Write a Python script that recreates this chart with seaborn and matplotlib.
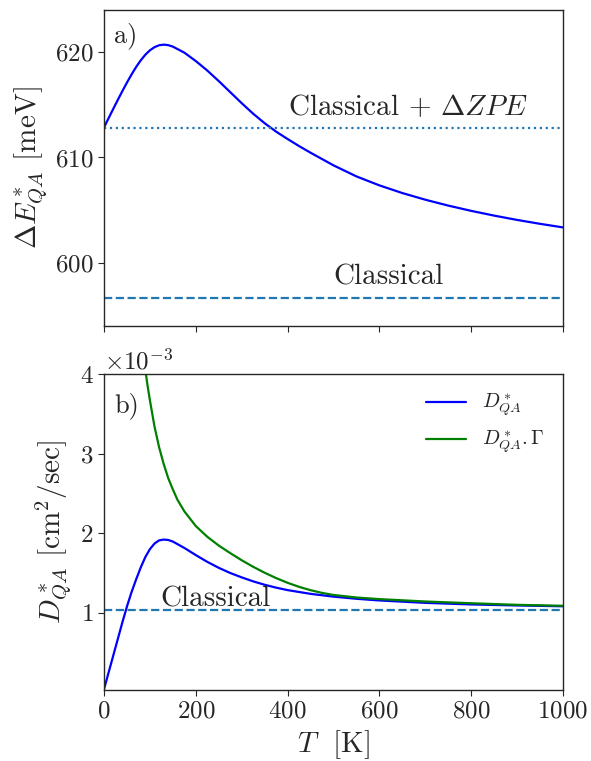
import numpy as np
import pandas as pd
import matplotlib
matplotlib.use("Agg")
import matplotlib.pyplot as plt
import seaborn as sns

# Activation energy vs temperature (meV)
T_E = [0, 10, 20, 30, 40, 50, 60, 70, 80, 90, 100, 110, 120, 130, 140, 150,
       175, 200, 225, 250, 275, 300, 325, 350, 375, 400, 425, 450, 500, 550,
       600, 650, 700, 750, 800, 850, 900, 950, 1000]
E_QA = [612.85, 613.73, 614.60, 615.46, 616.30, 617.11, 617.88, 618.59, 619.22,
        619.75, 620.17, 620.47, 620.65, 620.71, 620.66, 620.52, 619.95, 619.15,
        618.25, 617.25, 616.2, 615.15, 614.15, 613.25, 612.45, 611.75, 611.08,
        610.45, 609.25, 608.2, 607.35, 606.62, 605.99, 605.43, 604.93, 604.48,
        604.07, 603.70, 603.36]
E_classical = 596.7
E_classical_zpe = 612.8

# Diffusion coefficient vs temperature (units of 1e-3 cm^2/s)
T_D = [0, 10, 20, 30, 40, 50, 60, 70, 80, 90, 100, 110, 120, 130, 140, 150,
       175, 200, 225, 250, 275, 300, 325, 350, 375, 400, 450, 500, 550, 600,
       700, 800, 900, 1000]
D_QA = [0.04, 0.25, 0.46, 0.67, 0.88, 1.08, 1.26, 1.42, 1.57, 1.70, 1.80, 1.87,
        1.91, 1.92, 1.915, 1.895, 1.815, 1.725, 1.64, 1.565, 1.50, 1.445, 1.395,
        1.352, 1.316, 1.285, 1.238, 1.203, 1.176, 1.155, 1.125, 1.105, 1.092,
        1.082]
T_G = [85, 90, 95, 100, 110, 120, 130, 140, 150, 160, 175, 200, 225, 250, 275,
       300, 325, 350, 375, 400, 425, 450, 475, 500, 550, 600, 700, 800, 900,
       1000]
D_QA_gamma = [4.3, 4.05, 3.85, 3.67, 3.34, 3.08, 2.87, 2.69, 2.55, 2.42, 2.275,
              2.09, 1.955, 1.845, 1.75, 1.66, 1.578, 1.503, 1.436, 1.377, 1.326,
              1.284, 1.25, 1.224, 1.192, 1.172, 1.142, 1.12, 1.10, 1.088]
D_classical = 1.03

x_ticks = [0, 200, 400, 600, 800, 1000]

sns.set_style("ticks")
plt.rcParams["font.family"] = "serif"
plt.rcParams["font.serif"] = ["cmr10"]
plt.rcParams["mathtext.fontset"] = "cm"
plt.rcParams["axes.formatter.use_mathtext"] = True
plt.rcParams["axes.unicode_minus"] = True

df_E = pd.DataFrame({"T": T_E, "E": E_QA})
df_D = pd.DataFrame({"T": T_D, "D": np.array(D_QA) * 1e-3})
df_G = pd.DataFrame({"T": T_G, "D": np.array(D_QA_gamma) * 1e-3})

fig = plt.figure(figsize=(5.91, 7.61), dpi=100)
ax1 = fig.add_axes([0.176, 0.5716, 0.7766, 0.4153])
ax2 = fig.add_axes([0.176, 0.0933, 0.7766, 0.4152], sharex=ax1)

# Panel a: energy barrier
sns.lineplot(data=df_E, x="T", y="E", color="blue", lw=1.6, ax=ax1)
ax1.axhline(E_classical_zpe, color="C0", ls=":", lw=1.6)
ax1.axhline(E_classical, color="C0", ls="--", lw=1.6)
ax1.text(400, 614.0, r"Classical $+$ $\Delta ZPE$", fontsize=21)
ax1.text(500, 597.9, "Classical", fontsize=21)
ax1.text(22, 620.9, "a)", fontsize=19)
ax1.set_ylim(594, 624)
ax1.set_yticks([600, 610, 620])
ax1.set_ylabel(r"$\Delta E^*_{QA}$ [meV]", fontsize=21)
ax1.set_xlabel("")
ax1.tick_params(axis="x", labelbottom=False)

# Panel b: diffusion coefficient
sns.lineplot(data=df_D, x="T", y="D", color="blue", lw=1.6, ax=ax2,
             label=r"$D^*_{QA}$")
sns.lineplot(data=df_G, x="T", y="D", color="green", lw=1.6, ax=ax2,
             label=r"$D^*_{QA}.\Gamma$")
ax2.axhline(D_classical * 1e-3, color="C0", ls="--", lw=1.6)
ax2.text(122, 1.08e-3, "Classical", fontsize=21)
ax2.text(22, 3.52e-3, "b)", fontsize=19)
ax2.set_ylim(0.03e-3, 4e-3)
ax2.set_yticks([1e-3, 2e-3, 3e-3, 4e-3])
ax2.ticklabel_format(axis="y", style="sci", scilimits=(0, 0))
ax2.yaxis.get_offset_text().set_fontsize(18)
ax2.set_xlim(0, 1000)
ax2.set_xticks(x_ticks)
ax2.set_xlabel(r"$T\ $ [K]", fontsize=21)
ax2.set_ylabel(r"$D^*_{QA}$ [cm$^2$/sec]", fontsize=21)
ax2.legend(loc="upper right", frameon=False, fontsize=14.5)

for ax in (ax1, ax2):
    ax.tick_params(labelsize=18, direction="out", length=4)
    for s in ax.spines.values():
        s.set_visible(True)
        s.set_linewidth(1.0)

fig.savefig("out.png", dpi=100)
